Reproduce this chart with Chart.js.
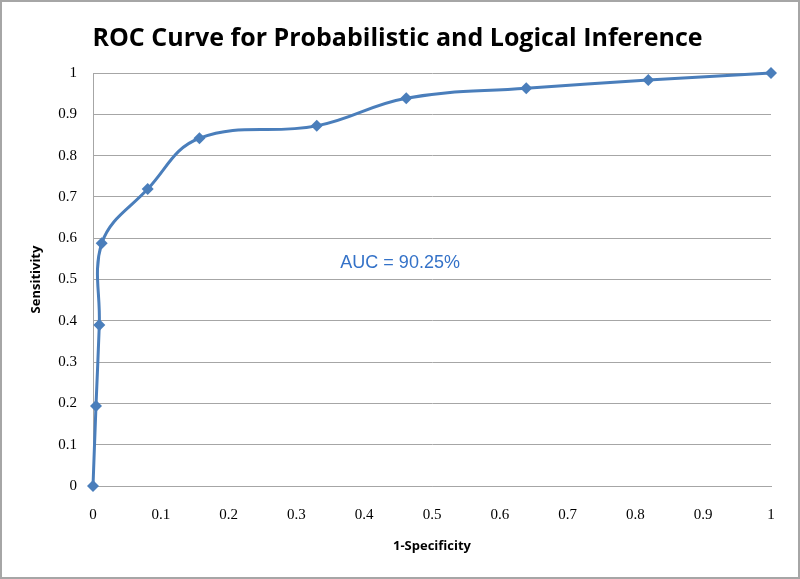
<!DOCTYPE html>
<html>
<head>
<meta charset="utf-8">
<script src="https://cdn.jsdelivr.net/npm/chart.js@4"></script>
<style>
  html, body { margin: 0; padding: 0; background: #fff; }
  #wrap { width: 800px; height: 579px; position: relative; }
</style>
</head>
<body>
<div id="wrap"><canvas id="c" width="800" height="579"></canvas></div>
<script>
// ---- data ----
const fpr = [0, 0.0044, 0.0093, 0.0128, 0.0807, 0.157, 0.33, 0.462, 0.639, 0.819, 1];
const tpr = [0, 0.194, 0.39, 0.588, 0.719, 0.842, 0.872, 0.939, 0.963, 0.983, 1];
const tickLabels = ['0', '0.1', '0.2', '0.3', '0.4', '0.5', '0.6', '0.7', '0.8', '0.9', '1'];
const chartTitle = 'ROC Curve for Probabilistic and Logical Inference';
const xTitle = '1-Specificity';
const yTitle = 'Sensitivity';
const aucText = 'AUC = 90.25%';
const aucPos = [0.453, 0.54];

const points = fpr.map((x, i) => ({ x: x, y: tpr[i] }));
const lbl = v => tickLabels[Math.round(v * 10)] ?? '';

const extras = {
  id: 'extras',
  afterDraw(chart) {
    const ctx = chart.ctx;
    const xs = chart.scales.x, ys = chart.scales.y;
    ctx.save();
    ctx.font = '18px "Liberation Sans", Arial, sans-serif';
    ctx.fillStyle = '#3472c8';
    ctx.textAlign = 'center';
    ctx.textBaseline = 'middle';
    ctx.fillText(aucText, xs.getPixelForValue(aucPos[0]), ys.getPixelForValue(aucPos[1]));
    ctx.strokeStyle = '#a6a6a6';
    ctx.lineWidth = 2;
    ctx.strokeRect(1, 1, chart.width - 2, chart.height - 2);
    ctx.restore();
  }
};

new Chart(document.getElementById('c'), {
  type: 'scatter',
  data: {
    datasets: [{
      data: points,
      showLine: true,
      clip: false,
      borderColor: '#4a7ebb',
      backgroundColor: '#4a7ebb',
      borderWidth: 3,
      tension: 0.4,
      pointStyle: 'rectRot',
      pointRadius: 6,
      pointHoverRadius: 6,
      pointBorderWidth: 0
    }]
  },
  options: {
    responsive: false,
    animation: false,
    devicePixelRatio: 1,
    layout: { padding: { left: 24, right: 29, top: 0, bottom: 21 } },
    plugins: {
      legend: { display: false },
      tooltip: { enabled: false },
      title: {
        display: true,
        text: chartTitle,
        color: '#000',
        font: { family: '"Open Sans", sans-serif', size: 25, weight: 'bold', lineHeight: 1.2 },
        padding: { top: 24, bottom: 19 }
      }
    },
    scales: {
      x: {
        type: 'linear', min: 0, max: 1,
        ticks: { stepSize: 0.1, callback: lbl, color: '#000', padding: 20,
                 font: { family: '"Liberation Serif", "DejaVu Serif", serif', size: 15 }, maxRotation: 0 },
        grid: { display: false, drawTicks: false },
        border: { display: true, color: '#a6a6a6', width: 1 },
        title: { display: true, text: xTitle, color: '#000',
                 font: { family: '"Open Sans", sans-serif', size: 13, weight: 'bold' }, padding: { top: 14 } },
        afterFit(s) { s.height = 72; }
      },
      y: {
        type: 'linear', min: 0, max: 1,
        ticks: { stepSize: 0.1, callback: lbl, color: '#000', padding: 16,
                 font: { family: '"Liberation Serif", "DejaVu Serif", serif', size: 15 } },
        grid: { color: '#a6a6a6', lineWidth: 1, drawTicks: false },
        border: { display: true, color: '#a6a6a6', width: 1 },
        title: { display: true, text: yTitle, color: '#000',
                 font: { family: '"Open Sans", sans-serif', size: 13, weight: 'bold' } },
        afterFit(s) { s.width = 69; }
      }
    }
  },
  plugins: [extras]
});
</script>
</body>
</html>
